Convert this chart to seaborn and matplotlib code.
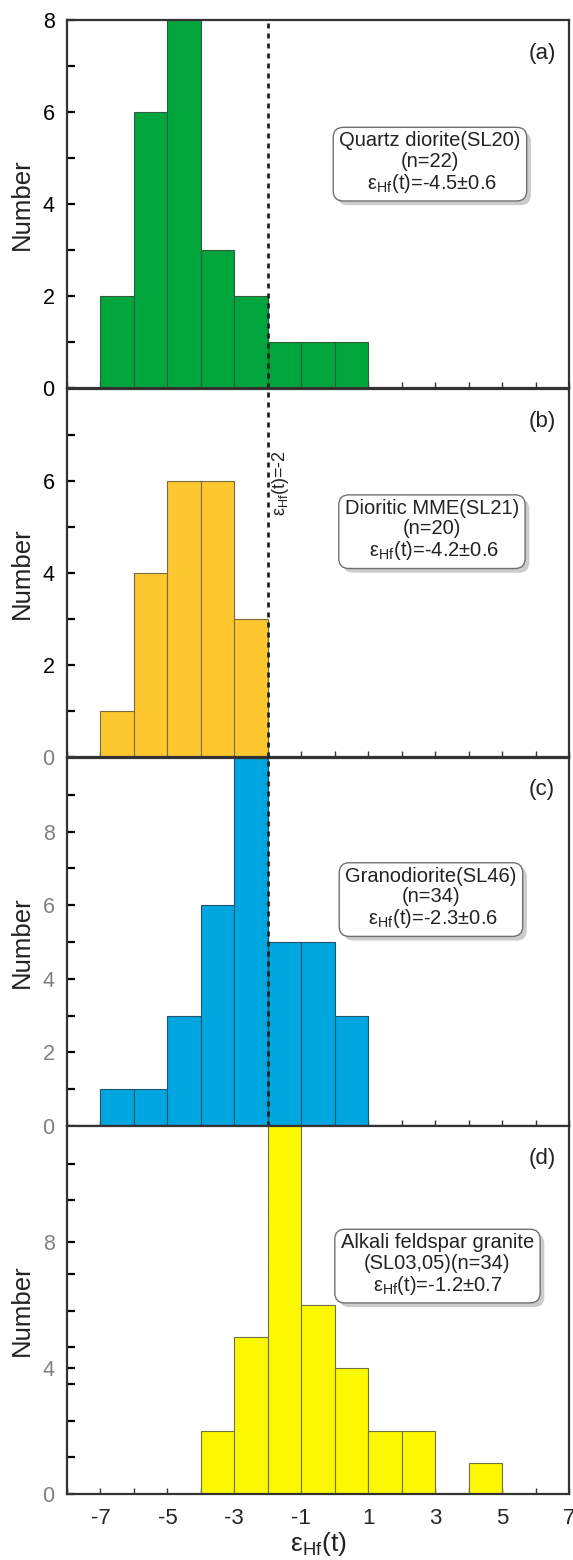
import numpy as np
import matplotlib
matplotlib.use('Agg')
import matplotlib.pyplot as plt
import matplotlib.patheffects as pe
from matplotlib.ticker import FixedLocator
import seaborn as sns

# histogram bins (width 1) and counts
bin_edges = list(range(-7, 6))

a_centers = [-6.5, -5.5, -4.5, -3.5, -2.5, -1.5, -0.5, 0.5]
a_counts = [2, 6, 8, 3, 2, 1, 1, 1]
b_centers = [-6.5, -5.5, -4.5, -3.5, -2.5]
b_counts = [1, 4, 6, 6, 3]
c_centers = [-6.5, -5.5, -4.5, -3.5, -2.5, -1.5, -0.5, 0.5]
c_counts = [1, 1, 3, 6, 10, 5, 5, 3]
d_centers = [-3.5, -2.5, -1.5, -0.5, 0.5, 1.5, 2.5, 4.5]
d_counts = [2, 5, 12, 6, 4, 2, 2, 1]

panel_tags = ['(a)', '(b)', '(c)', '(d)']
box_texts = [
    'Quartz diorite(SL20)\n(n=22)\n ε$_{\\mathregular{Hf}}$(t)=-4.5±0.6',
    'Dioritic MME(SL21)\n(n=20)\n ε$_{\\mathregular{Hf}}$(t)=-4.2±0.6',
    'Granodiorite(SL46)\n(n=34)\n ε$_{\\mathregular{Hf}}$(t)=-2.3±0.6',
    'Alkali feldspar granite\n(SL03,05)(n=34)\nε$_{\\mathregular{Hf}}$(t)=-1.2±0.7',
]
x_ticks = [-7, -5, -3, -1, 1, 3, 5, 7]
y_major = [[0, 2, 4, 6, 8], [0, 2, 4, 6], [0, 2, 4, 6, 8], [0, 4, 8]]
y_tops = [8, 8, 10, 11.7]
ref_line = -2

colors = ['#00a63c', '#fdc82f', '#00a6e0', '#fcf800']
edges = ['#2f5d3c', '#7a6a40', '#24536a', '#707040']
label_colors = [['k'] * 5, ['#808080', 'k', 'k', 'k'], ['#808080'] * 5, ['#808080'] * 3]

sns.set_style('ticks')
plt.rcParams['font.family'] = ['Liberation Sans', 'DejaVu Sans']
plt.rcParams['mathtext.fontset'] = 'custom'
plt.rcParams['mathtext.rm'] = 'Liberation Sans'
plt.rcParams['axes.unicode_minus'] = False

fig = plt.figure(figsize=(5.73, 15.6), dpi=100)
panel_h = 368 / 1560
bottoms = [1 - (388 / 1560), 1 - (757 / 1560), 1 - (1126 / 1560), 1 - (1494 / 1560)]

data = [(a_centers, a_counts), (b_centers, b_counts), (c_centers, c_counts), (d_centers, d_counts)]
box_pos = [(0.723, 0.611), (0.727, 0.615), (0.725, 0.618), (0.738, 0.622)]
tag_y = [0.91, 0.913, 0.915, 0.912]

for i, (centers, counts) in enumerate(data):
    ax = fig.add_axes([67 / 573, bottoms[i], 502 / 573, panel_h])
    sns.histplot(x=centers, weights=counts, bins=bin_edges, color=colors[i],
                 edgecolor=edges[i], linewidth=0.8, alpha=1, ax=ax, zorder=2)

    if i < 3:
        ax.axvline(ref_line, color='#222222', lw=2, dashes=(1.8, 1.8), zorder=3)
    else:
        ax.axvline(ref_line, color='#666666', lw=0.8, dashes=(3, 2), zorder=1)

    ax.set_xlim(-8, 7)
    ax.set_ylim(0, y_tops[i])
    ax.xaxis.set_major_locator(FixedLocator(x_ticks))
    ax.xaxis.set_minor_locator(FixedLocator(range(-8, 8)))
    ax.yaxis.set_major_locator(FixedLocator(y_major[i]))
    if i == 3:
        # tick marks in the original do not sit on the labels in this panel
        minor = [k * 7 / 6 for k in range(1, 10) if k != 7]
    else:
        minor = [k for k in range(1, int(y_tops[i])) if k % 2 == 1]
    ax.yaxis.set_minor_locator(FixedLocator(minor))

    ax.tick_params(axis='y', which='both', direction='in', length=6, width=1.6,
                   labelsize=15.5, pad=9, color='k')
    ax.tick_params(axis='x', which='both', direction='in', length=4, width=1.0,
                   labelsize=16, pad=10, color='#333333')
    for lbl, c in zip(ax.get_yticklabels(), label_colors[i]):
        lbl.set_color(c)

    for sp in ax.spines.values():
        sp.set_visible(True)
        sp.set_linewidth(1.6)
        sp.set_color('#333333')

    ax.set_ylabel('Number', fontsize=18.5, labelpad=6, color='#222222')
    if i < 3:
        ax.set_xticklabels([])
        ax.set_xlabel('')
    else:
        ax.set_xlabel('ε$_{\\mathregular{Hf}}$(t)', fontsize=19, labelpad=1, color='#222222')

    ax.text(0.946, tag_y[i], panel_tags[i], transform=ax.transAxes, fontsize=16,
            ha='center', va='center', color='#222222')

    t = ax.text(box_pos[i][0], box_pos[i][1], box_texts[i], transform=ax.transAxes,
                fontsize=14.5, ha='center', va='center', multialignment='center',
                linespacing=1.08, color='#222222', zorder=5,
                bbox=dict(boxstyle='round,pad=0.3,rounding_size=0.5', fc='white',
                          ec='#707070', lw=1.0))
    t.get_bbox_patch().set_path_effects([
        pe.SimplePatchShadow(offset=(3, -3), shadow_rgbFace='#aaaaaa', alpha=0.6),
        pe.Normal()])

    if i == 1:
        ax.text(-1.62, 5.95, 'ε$_{\\mathregular{Hf}}$(t)=-2', rotation=90, fontsize=13,
                ha='center', va='center', color='#222222', zorder=5)

fig.savefig('out.png', dpi=100)
